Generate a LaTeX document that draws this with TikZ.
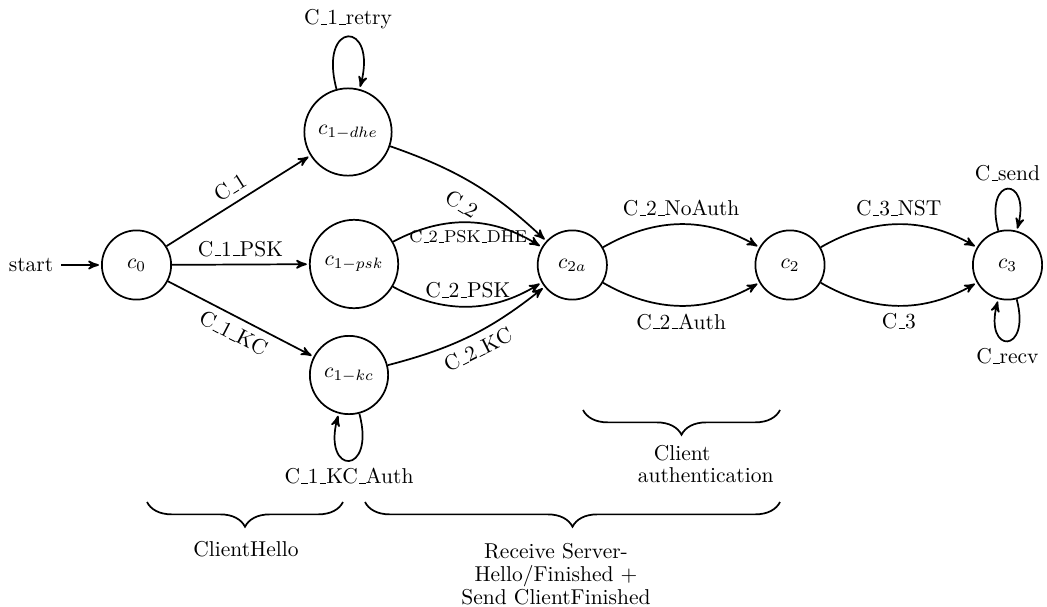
\documentclass[tikz,border=0pt]{standalone}
\usetikzlibrary{arrows,decorations.pathreplacing}
% underscore drawn as a baseline rule
\newcommand{\usc}{\leavevmode\kern.06em\vbox{\hrule width.3em}}
\begin{document}
\begin{tikzpicture}[x=0.4651pt, y=0.4651pt, ->, >=stealth', shorten >=1pt, thick, auto,
  fsm/.style={circle, draw, inner sep=0pt, minimum size=32.2pt},
  brace/.style={-, shorten >=0pt, decorate, decoration={brace, amplitude=11.5pt}},
  lbl/.style={font=\fontsize{10}{10.6}\selectfont}]
\useasboundingbox (0,0) rectangle (1047,-606);

% states
\node[fsm] (c0) at (136.5,-265) {$c_0$};
\node[fsm, minimum size=40.6pt] (c1dhe) at (348,-132) {$c_{1-dhe}$};
\node[fsm, minimum size=41.1pt] (c1psk) at (354,-264) {$c_{1-psk}$};
\node[fsm, minimum size=36.4pt] (c1kc) at (349,-375) {$c_{1-kc}$};
\node[fsm] (c2a) at (572.3,-265) {$c_{2a}$};
\node[fsm] (c2) at (790,-265) {$c_2$};
\node[fsm] (c3) at (1007.5,-265) {$c_3$};

% initial arrow
\node (start) at (31,-265) {start};
\draw (start) -- (c0);

% transitions
\path (c0) edge node[sloped] {C\usc 1} (c1dhe)
      (c0) edge node {C\usc 1\usc PSK} (c1psk)
      (c0) edge node[sloped, swap] {C\usc 1\usc KC} (c1kc)
      (c1dhe) edge[loop above] node[above] {C\usc 1\usc retry} ()
      (c1kc) edge[loop below] node[below] {C\usc 1\usc KC\usc Auth} ()
      (c1dhe) edge[bend left=12] node[sloped, swap, inner sep=7pt] {C\usc 2} (c2a)
      (c1psk) edge[bend left] node[swap, font=\footnotesize] {C\usc 2\usc PSK\usc DHE} (c2a)
      (c1psk) edge[bend right] node {C\usc 2\usc PSK} (c2a)
      (c1kc) edge[bend right=12] node[sloped, swap] {C\usc 2\usc KC} (c2a)
      (c2a) edge[bend left] node {C\usc 2\usc NoAuth} (c2)
      (c2a) edge[bend right] node[swap] {C\usc 2\usc Auth} (c2)
      (c2) edge[bend left] node {C\usc 3\usc NST} (c3)
      (c2) edge[bend right] node[swap] {C\usc 3} (c3)
      (c3) edge[loop above] node[above] {C\usc send} ()
      (c3) edge[loop below] node[below] {C\usc recv} ();

% phase braces
\coordinate (hl) at (147,-502);
\coordinate (hr) at (343,-502);
\coordinate (rl) at (365,-502);
\coordinate (rr) at (780,-502);
\coordinate (al) at (583,-410);
\coordinate (ar) at (780,-410);
\draw[brace] (hr) -- (hl);
\draw[brace] (rr) -- (rl);
\draw[brace] (ar) -- (al);

\node[lbl] (hello) at (246,-549) {ClientHello};
\node[lbl, align=center, inner sep=0pt] (recv) at (556,-574) {Receive Server-\\Hello/Finished +\\Send ClientFinished};
\node[lbl, align=left, inner sep=0pt, anchor=north west] (auth) at (637,-444) {\hspace*{7.4pt}Client\\authentication};
\end{tikzpicture}
\end{document}
